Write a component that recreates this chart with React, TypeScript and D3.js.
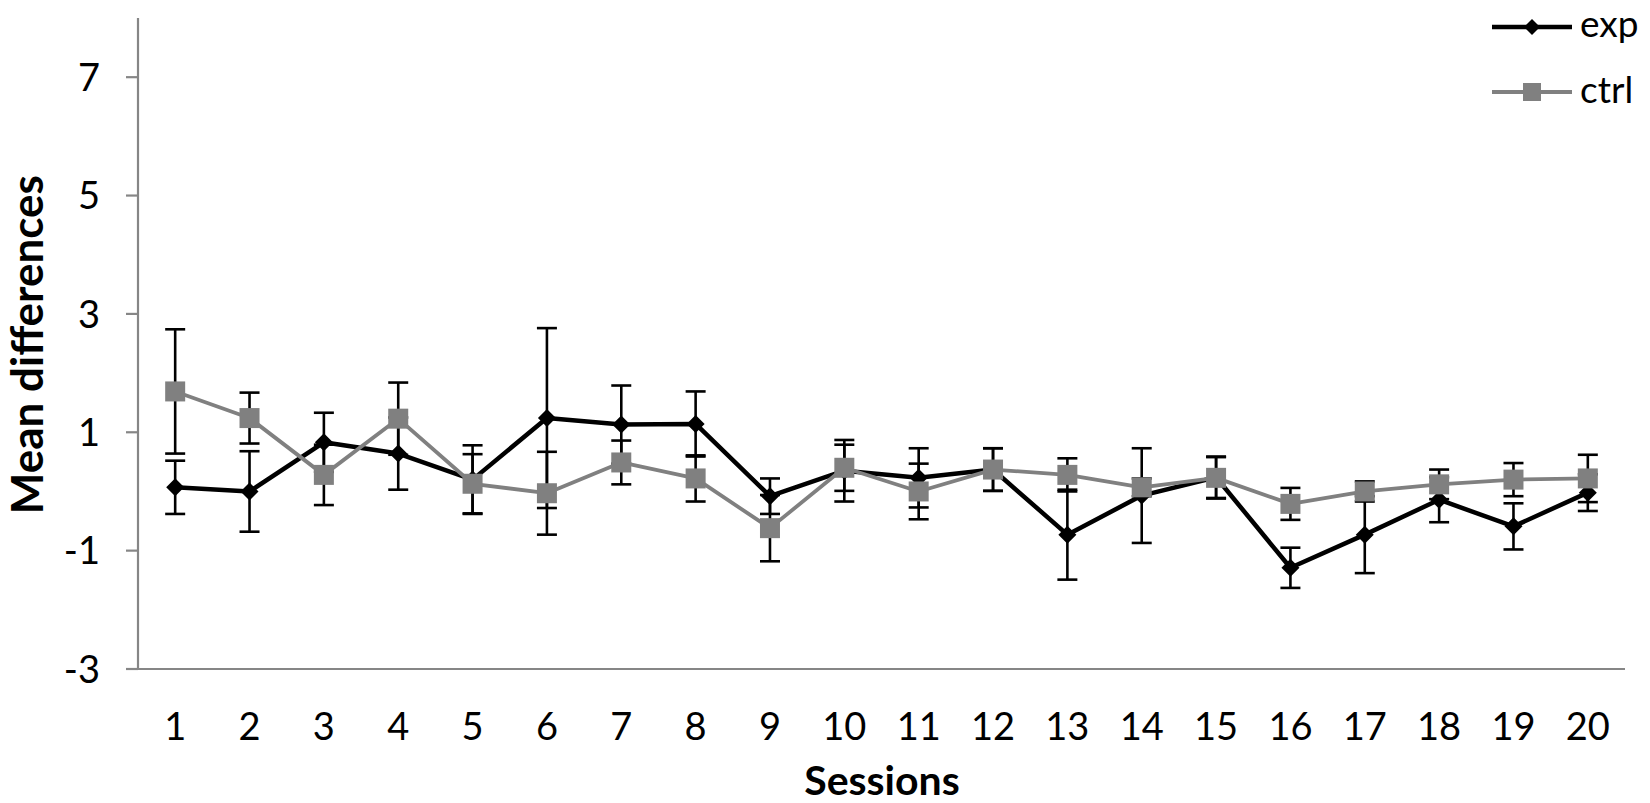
import React from "react";
import * as d3 from "d3";

const sessions = d3.range(1, 21).map(String);
const expMean = [0.07, 0.0, 0.83, 0.64, 0.2, 1.24, 1.13, 1.14, -0.08, 0.35, 0.23, 0.37, -0.73, -0.07, 0.24, -1.29, -0.73, -0.14, -0.59, -0.02];
const expErr = [0.45, 0.68, 0.5, 0.61, 0.58, 1.52, 0.66, 0.55, 0.3, 0.52, 0.5, 0.36, 0.76, 0.8, 0.35, 0.34, 0.65, 0.38, 0.39, 0.31];
const ctrlMean = [1.69, 1.24, 0.28, 1.23, 0.13, -0.03, 0.49, 0.22, -0.62, 0.4, 0.0, 0.37, 0.28, 0.07, 0.23, -0.21, 0.0, 0.12, 0.2, 0.22];
const ctrlErr = [1.05, 0.43, 0.51, 0.61, 0.5, 0.7, 0.37, 0.39, 0.56, 0.39, 0.47, 0.36, 0.28, 0.15, 0.35, 0.27, 0.17, 0.25, 0.28, 0.4];
const yTicks = [-3, -1, 1, 3, 5, 7];

const W = 1650;
const H = 803;
const FONT = "Lato, 'Open Sans', sans-serif";
const AXIS = "#868686";
const GRAY = "#808080";

export default function App() {
  const x = d3.scaleBand<string>().domain(sessions).range([138, 1625]).padding(0);
  const cx = (s: string) => (x(s) as number) + x.bandwidth() / 2;
  const y = d3.scaleLinear().domain([-3, 8]).range([669, 18]);

  const line = d3
    .line<number>()
    .x((_, i) => cx(sessions[i]))
    .y((d) => y(d));

  const diamond = (px: number, py: number, r: number) =>
    `M${px},${py - r}L${px + r},${py}L${px},${py + r}L${px - r},${py}Z`;

  const errBars = (means: number[], errs: number[], key: string) =>
    means.map((m, i) => {
      const px = cx(sessions[i]);
      const top = y(m + errs[i]);
      const bot = y(m - errs[i]);
      return (
        <g key={key + i} stroke="#000" strokeWidth={2.6} fill="none">
          <line x1={px} x2={px} y1={top} y2={bot} />
          <line x1={px - 10} x2={px + 10} y1={top} y2={top} />
          <line x1={px - 10} x2={px + 10} y1={bot} y2={bot} />
        </g>
      );
    });

  return (
    <svg
      width={W}
      height={H}
      style={{ position: "absolute", left: 0, top: 0, background: "#fff" }}
      fontFamily={FONT}
    >
      {/* axes */}
      <line x1={138} x2={138} y1={18} y2={669} stroke={AXIS} strokeWidth={2.2} />
      <line x1={126} x2={1625} y1={669} y2={669} stroke={AXIS} strokeWidth={2.2} />
      {yTicks.map((t) => (
        <g key={"yt" + t}>
          <line x1={126} x2={138} y1={y(t)} y2={y(t)} stroke={AXIS} strokeWidth={2.2} />
          <text x={100} y={y(t)} dy="0.36em" textAnchor="end" fontSize={38} fill="#000">
            {t}
          </text>
        </g>
      ))}
      {sessions.map((s) => (
        <text key={"xt" + s} x={cx(s)} y={740} textAnchor="middle" fontSize={38} fill="#000">
          {s}
        </text>
      ))}
      <text
        transform={`translate(43,${y(2.48)}) rotate(-90)`}
        textAnchor="middle"
        fontSize={44}
        fontWeight="bold"
        fill="#000"
      >
        Mean differences
      </text>
      <text x={882} y={795} textAnchor="middle" fontSize={41} fontWeight="bold" fill="#000">
        Sessions
      </text>

      {/* exp series */}
      {errBars(expMean, expErr, "ee")}
      <path d={line(expMean) as string} fill="none" stroke="#000" strokeWidth={4.5} strokeLinejoin="round" />
      {expMean.map((m, i) => (
        <path key={"ed" + i} d={diamond(cx(sessions[i]), y(m), 9)} fill="#000" />
      ))}

      {/* ctrl series */}
      {errBars(ctrlMean, ctrlErr, "ce")}
      <path d={line(ctrlMean) as string} fill="none" stroke={GRAY} strokeWidth={3.8} strokeLinejoin="round" />
      {ctrlMean.map((m, i) => (
        <rect key={"cs" + i} x={cx(sessions[i]) - 10} y={y(m) - 10} width={20} height={20} fill={GRAY} />
      ))}

      {/* legend */}
      <line x1={1492} x2={1572} y1={27} y2={27} stroke="#000" strokeWidth={4.5} />
      <path d={diamond(1532, 27, 8)} fill="#000" />
      <text x={1580} y={37} fontSize={37} fill="#000">exp</text>
      <line x1={1492} x2={1572} y1={92} y2={92} stroke={GRAY} strokeWidth={3.8} />
      <rect x={1523} y={83} width={18} height={18} fill={GRAY} />
      <text x={1580} y={103} fontSize={37} fill="#000">ctrl</text>
    </svg>
  );
}
